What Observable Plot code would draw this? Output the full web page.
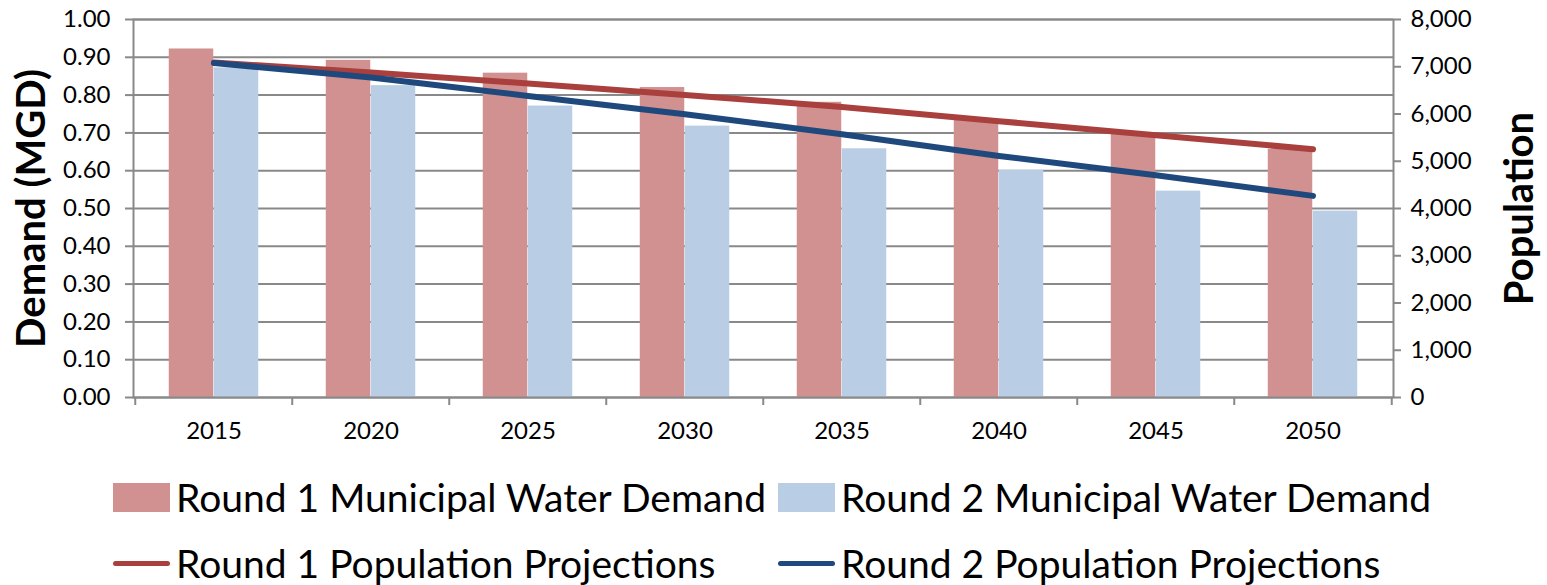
<!DOCTYPE html>
<html><head><meta charset="utf-8">
<script src="https://cdn.jsdelivr.net/npm/d3@7"></script>
<script src="https://cdn.jsdelivr.net/npm/@observablehq/plot@0.6"></script>
<style>
body{margin:0;background:#fff;font-family:Lato, "Open Sans", sans-serif;}
#chart svg{font-family:Lato, "Open Sans", sans-serif;}
#legend{position:relative;height:135px;width:1547px;}
.item{position:absolute;display:flex;align-items:center;height:40px;font-size:39px;color:#000;white-space:nowrap}
.sw{width:57px;height:29px;margin-right:6px}
.ln{width:57px;height:5px;margin-right:6px;border-radius:3px}
</style></head><body>
<div id="chart"></div>
<div id="legend"></div>
<script>
const years = [2015, 2020, 2025, 2030, 2035, 2040, 2045, 2050];
const round1Demand = [0.922, 0.892, 0.858, 0.820, 0.781, 0.735, 0.698, 0.657];
const round2Demand = [0.872, 0.825, 0.771, 0.718, 0.658, 0.601, 0.546, 0.493];
const round1Population = [7090, 6878, 6646, 6404, 6150, 5848, 5551, 5255];
const round2Population = [7080, 6772, 6383, 5996, 5573, 5113, 4704, 4267];
const demandTicks = [0, 0.1, 0.2, 0.3, 0.4, 0.5, 0.6, 0.7, 0.8, 0.9, 1.0];
const populationTicks = [0, 1000, 2000, 3000, 4000, 5000, 6000, 7000, 8000];
const populationMax = 8000;
const seriesNames = ["Round 1 Municipal Water Demand", "Round 2 Municipal Water Demand",
                     "Round 1 Population Projections", "Round 2 Population Projections"];
const colors = {r1bar: "#D19191", r2bar: "#B9CDE5", r1line: "#A9403D", r2line: "#1F497D"};
const gray = "#898989";

const r1 = years.map((y, i) => ({year: y, demand: round1Demand[i], pop: round1Population[i]}));
const r2 = years.map((y, i) => ({year: y, demand: round2Demand[i], pop: round2Population[i]}));

const W = 1547, ML = 133, MR = 154;
const bw = (W - ML - MR) / years.length;
const group = bw * 0.5714;
const outer = (bw - group) / 2;

const chart = Plot.plot({
  width: W, height: 450,
  marginLeft: ML, marginRight: MR, marginTop: 19, marginBottom: 53,
  style: {fontFamily: "Lato, 'Open Sans', sans-serif", background: "#fff"},
  x: {type: "band", domain: years, padding: 0},
  y: {domain: [0, 1]},
  marks: [
    Plot.gridY(demandTicks, {stroke: gray, strokeOpacity: 1, strokeWidth: 2}),
    Plot.barY(r1, {x: "year", y: "demand", fill: colors.r1bar, insetLeft: outer, insetRight: bw / 2}),
    Plot.barY(r2, {x: "year", y: "demand", fill: colors.r2bar, insetLeft: bw / 2, insetRight: outer}),
    Plot.frame({stroke: gray, strokeWidth: 2}),
    Plot.line(r1, {x: "year", y: d => d.pop / populationMax, stroke: colors.r1line, strokeWidth: 6, strokeLinecap: "round", strokeLinejoin: "round"}),
    Plot.line(r2, {x: "year", y: d => d.pop / populationMax, stroke: colors.r2line, strokeWidth: 6, strokeLinecap: "round", strokeLinejoin: "round"}),
    Plot.axisY({ticks: demandTicks, tickFormat: d3.format(".2f"), tickSize: 8, tickPadding: 15, fontSize: 24, stroke: gray, strokeWidth: 2, fill: "black", label: null}),
    Plot.axisY({anchor: "right", ticks: populationTicks.map(p => p / populationMax), tickFormat: d => d3.format(",")(Math.round(d * populationMax)), tickSize: 7, tickPadding: 10, fontSize: 24, stroke: gray, strokeWidth: 2, fill: "black", label: null}),
    Plot.axisX({ticks: years, tickSize: 8, tickFormat: () => "", dx: -bw / 2, stroke: gray, strokeWidth: 2, label: null}),
    Plot.axisX({ticks: [years[years.length - 1]], tickSize: 8, tickFormat: () => "", dx: bw / 2, stroke: gray, strokeWidth: 2, label: null}),
    Plot.axisX({ticks: years, tickSize: 0, tickPadding: 24, tickFormat: d => String(d), fontSize: 24, fill: "black", label: null}),
    Plot.text(["Demand (MGD)"], {text: d => d, frameAnchor: "left", textAnchor: "middle", rotate: -90, dx: -101, fontSize: 40, fontWeight: "bold", fill: "black"}),
    Plot.text(["Population"], {text: d => d, frameAnchor: "right", textAnchor: "middle", rotate: -90, dx: 127, fontSize: 40, fontWeight: "bold", fill: "black"})
  ]
});
document.getElementById("chart").appendChild(chart);

const legend = document.getElementById("legend");
const items = [
  {name: seriesNames[0], cls: "sw", color: colors.r1bar, left: 113, top: 27},
  {name: seriesNames[1], cls: "sw", color: colors.r2bar, left: 778, top: 27},
  {name: seriesNames[2], cls: "ln", color: colors.r1line, left: 113, top: 93},
  {name: seriesNames[3], cls: "ln", color: colors.r2line, left: 778, top: 93}
];
for (const it of items) {
  const d = document.createElement("div");
  d.className = "item";
  d.style.left = it.left + "px";
  d.style.top = it.top + "px";
  const s = document.createElement("span");
  s.className = it.cls;
  s.style.background = it.color;
  d.appendChild(s);
  const t = document.createElement("span");
  t.textContent = it.name;
  d.appendChild(t);
  legend.appendChild(d);
}
</script>
</body></html>
